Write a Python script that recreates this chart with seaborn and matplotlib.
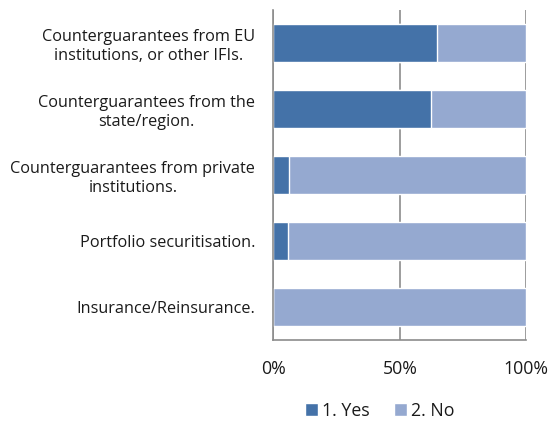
import pandas as pd
import matplotlib.pyplot as plt
import seaborn as sns

# data (percent of respondents)
categories = [
    "Counterguarantees from EU\ninstitutions, or other IFIs.",
    "Counterguarantees from the\nstate/region.",
    "Counterguarantees from private\ninstitutions.",
    "Portfolio securitisation.",
    "Insurance/Reinsurance.",
]
yes_pct = [64.7, 62.5, 6.25, 5.9, 0.0]
no_pct = [35.3, 37.5, 93.75, 94.1, 100.0]
series_labels = ["1. Yes", "2. No"]
x_ticks = [0, 50, 100]
x_tick_labels = ["0%", "50%", "100%"]

yes_color = "#4472A8"
no_color = "#95A9D0"

df = pd.DataFrame({"category": categories, "yes": yes_pct, "no": no_pct})
df["total"] = df["yes"] + df["no"]

sns.set_style("white")
plt.rcParams["font.family"] = ["Open Sans", "DejaVu Sans"]

fig = plt.figure(figsize=(5.54, 4.21), dpi=100)
ax = fig.add_axes([0.4934, 0.192, 0.4567, 0.784])

# stacked: draw full bar (No on top of Yes) first, then Yes over it
sns.barplot(data=df, x="total", y="category", orient="h", color=no_color,
            width=0.58, saturation=1, ax=ax, label=series_labels[1])
sns.barplot(data=df, x="yes", y="category", orient="h", color=yes_color,
            width=0.58, saturation=1, ax=ax, label=series_labels[0])

ax.set_xlim(0, 100)
ax.set_xticks(x_ticks)
ax.set_xticklabels(x_tick_labels, fontsize=12.8, color="#1a1a1a")
ax.tick_params(axis="x", length=0, pad=14)
ax.tick_params(axis="y", length=0, pad=13)
for lab in ax.get_yticklabels():
    lab.set_fontsize(11.7)
    lab.set_color("#1a1a1a")
    lab.set_multialignment("center")
ax.set_xlabel("")
ax.set_ylabel("")

ax.set_axisbelow(True)
ax.xaxis.grid(True, color="#8c8c8c", linewidth=1.2)
for side in ["top", "right"]:
    ax.spines[side].set_visible(False)
for side in ["left", "bottom"]:
    ax.spines[side].set_color("#8c8c8c")
    ax.spines[side].set_linewidth(1.2)

handles, labels = ax.get_legend_handles_labels()
order = [labels.index(s) for s in series_labels]
ax.legend([handles[i] for i in order], series_labels, loc="center",
          bbox_to_anchor=(0.42, -0.215), ncol=2, frameon=False, fontsize=12.8,
          handlelength=0.75, handleheight=0.75, columnspacing=1.4,
          handletextpad=0.2, labelcolor="#1a1a1a")

fig.savefig("out.png", dpi=100)
